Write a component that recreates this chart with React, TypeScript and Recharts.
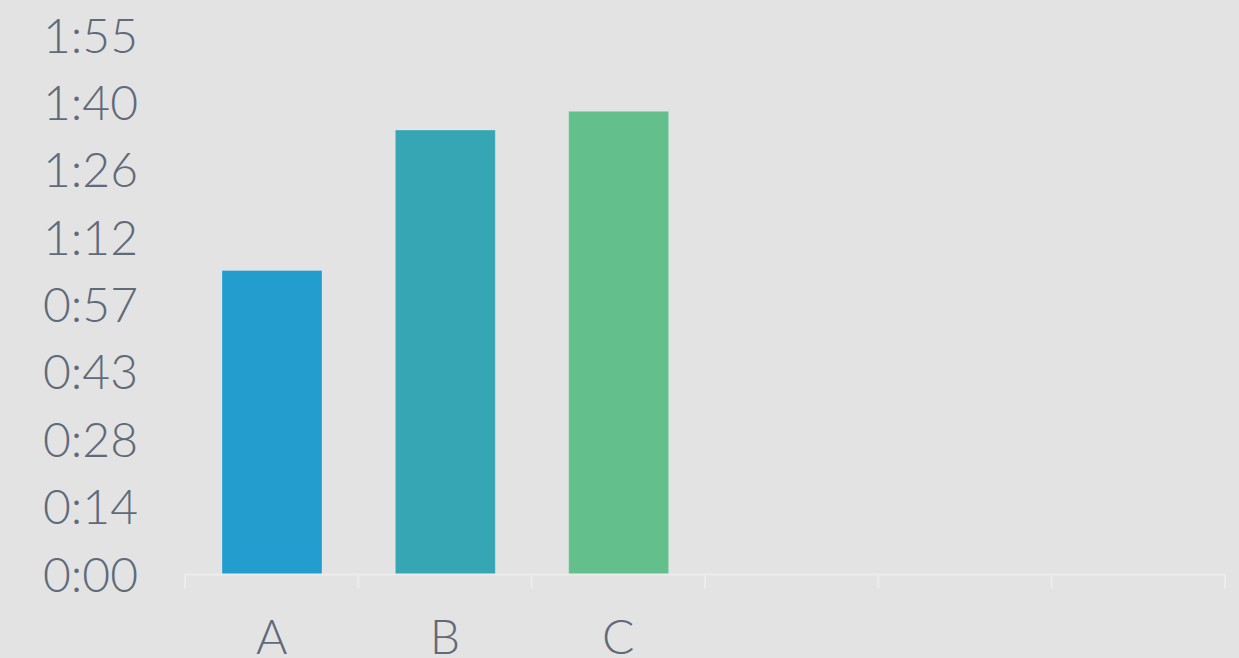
import React from "react";
import { BarChart, Bar, XAxis, YAxis, Cell } from "recharts";

const categories = ["A", "B", "C", "", "", ""];
const durations = [65, 95, 99, null, null, null]; // seconds
const barColors = ["#239dce", "#36a6b5", "#63c08c"];
const yTicks = [0, 14.4, 28.8, 43.2, 57.6, 72, 86.4, 100.8, 115.2];
const edgeTicks = [0, 1, 2, 3, 4, 5, 6];

const data = categories.map((name, i) => ({ name, pos: i + 0.5, value: durations[i] }));

const fmtTime = (v: number) => {
  const s = Math.floor(v + 1e-9);
  const m = Math.floor(s / 60);
  const r = s % 60;
  return `${m}:${r < 10 ? "0" : ""}${r}`;
};

const textStyle = { fill: "#5f6a7a", fontSize: 48, fontFamily: "Lato", fontWeight: 300 };

export default function App() {
  return (
    <div
      style={{
        position: "absolute",
        left: 0,
        top: 0,
        width: 1239,
        height: 658,
        background: "#e3e3e3",
      }}
    >
      <BarChart
        width={1239}
        height={658}
        data={data}
        margin={{ top: 35.5, right: 14, left: 0, bottom: 0 }}
      >
        {/* boundary ticks between the bands */}
        <XAxis
          type="number"
          dataKey="pos"
          domain={[0, 6]}
          ticks={edgeTicks}
          tickCount={7}
          tickFormatter={() => ""}
          tickSize={14}
          height={15}
          axisLine={{ stroke: "#ececec", strokeWidth: 2 }}
          tickLine={{ stroke: "#ececec", strokeWidth: 2 }}
          interval={0}
          allowDataOverflow
        />
        <XAxis
          xAxisId="cat"
          dataKey="name"
          axisLine={false}
          tickLine={false}
          tickSize={0}
          tickMargin={30.5}
          height={68.5}
          tick={textStyle}
          interval={0}
        />
        <YAxis
          width={185}
          domain={[0, 115.2]}
          ticks={yTicks}
          tickFormatter={fmtTime}
          axisLine={false}
          tickLine={false}
          tickSize={0}
          tickMargin={47}
          tick={textStyle}
          interval={0}
        />
        <Bar
          xAxisId="cat"
          dataKey="value"
          barSize={100}
          isAnimationActive={false}
          stroke="rgba(255,255,255,0.25)"
          strokeWidth={1}
        >
          {data.map((d, i) => (
            <Cell key={i} fill={barColors[i % barColors.length]} />
          ))}
        </Bar>
      </BarChart>
    </div>
  );
}
